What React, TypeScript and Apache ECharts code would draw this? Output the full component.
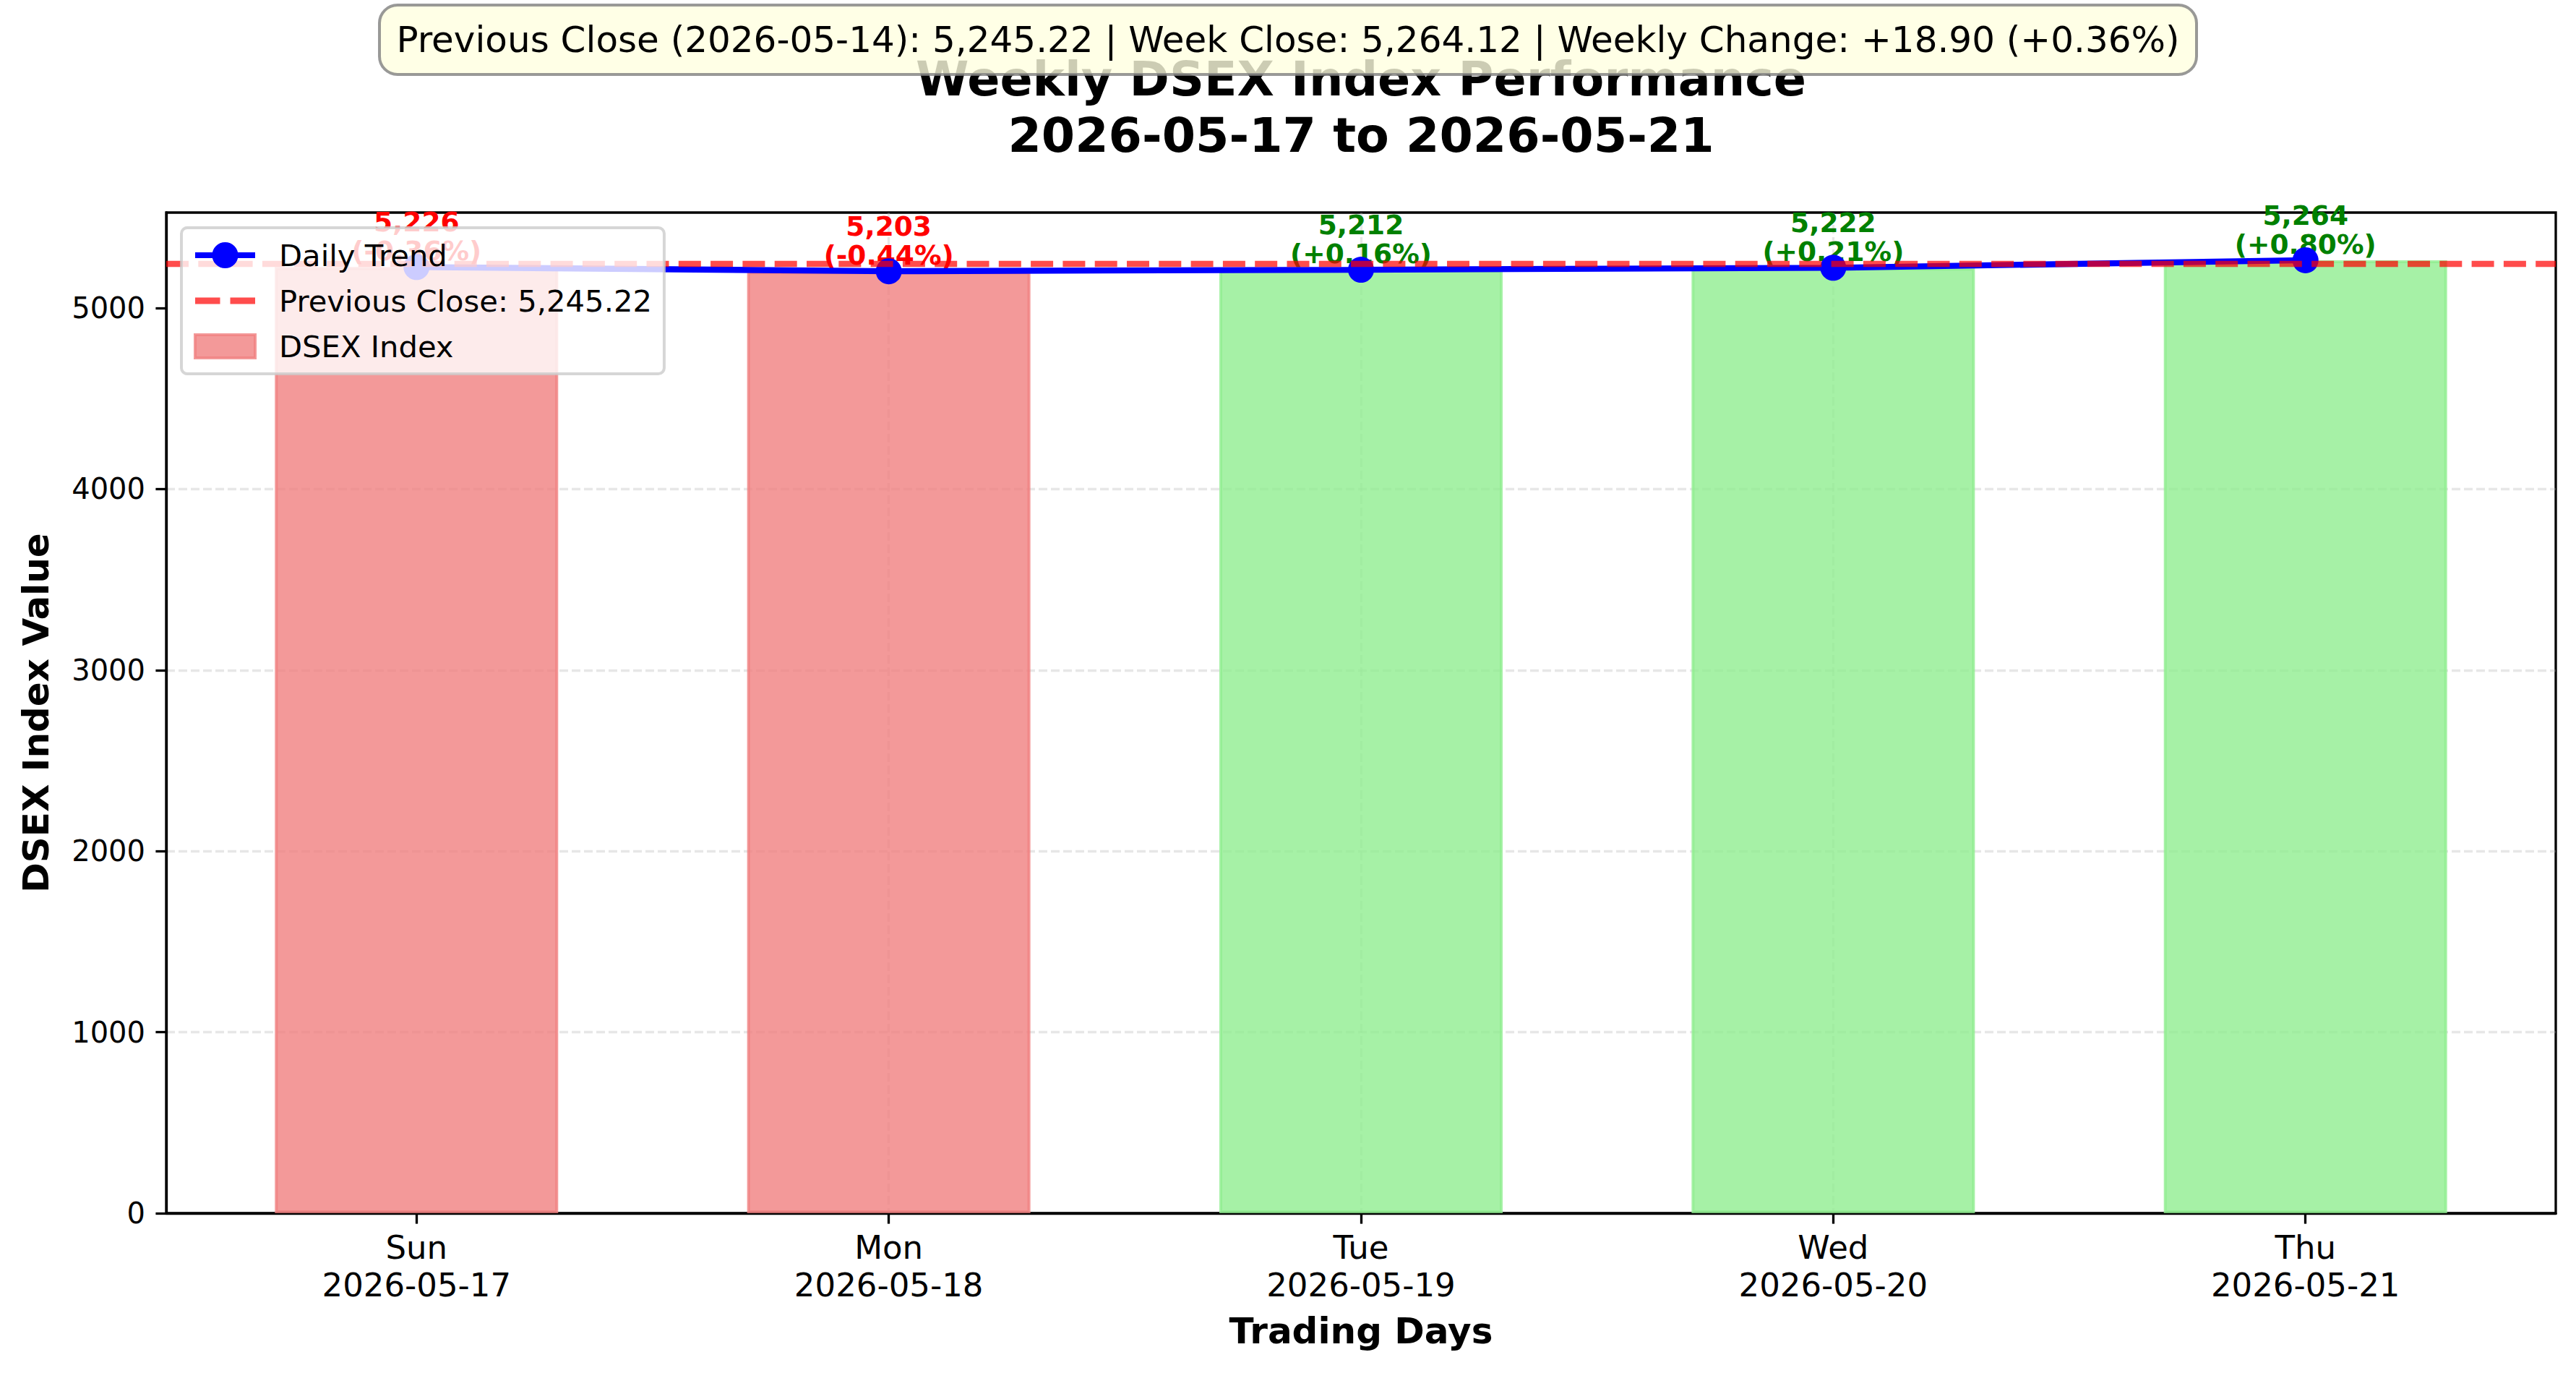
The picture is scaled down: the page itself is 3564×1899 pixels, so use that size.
import { useEffect, useRef } from "react";
import * as echarts from "echarts";

const DAYS = ["Sun", "Mon", "Tue", "Wed", "Thu"];
const DATES = ["2026-05-17", "2026-05-18", "2026-05-19", "2026-05-20", "2026-05-21"];
const CLOSES = [5226.34, 5203.3, 5211.6, 5222.4, 5264.12];
const CHANGE_PCT = [-0.36, -0.44, 0.16, 0.21, 0.8];
const PREV_CLOSE = 5245.22;
const PREV_CLOSE_DATE = "2026-05-14";
const Y_TICKS = [0, 1000, 2000, 3000, 4000, 5000];
const X_TICKS = [0, 1, 2, 3, 4];
const X_MIN = -0.53;
const X_MAX = 4.53;
const Y_MAX = 5527.3;

const FONT = "DejaVu Sans";

// legend handles drawn like matplotlib's: line with marker, two dashes, filled patch
const ICON_TREND =
  "path://M0,14H83V22H0Z M23.5,18 A18,18 0 1,1 59.5,18 A18,18 0 1,1 23.5,18 Z";
const ICON_DASH = "path://M0,0H32V8.3H0Z M45,0H77V8.3H45Z";
const ICON_PATCH = "path://M0,0H83V32H0Z";

const fmt0 = (v: number) => v.toLocaleString("en-US", { maximumFractionDigits: 0 });
const fmt2 = (v: number) =>
  v.toLocaleString("en-US", { minimumFractionDigits: 2, maximumFractionDigits: 2 });
const signed = (v: number) => (v >= 0 ? `+${v.toFixed(2)}` : v.toFixed(2));

export default function App() {
  const chartRef = useRef<HTMLDivElement | null>(null);

  useEffect(() => {
    if (!chartRef.current) {
      return;
    }
    const chart = echarts.init(chartRef.current, null, { renderer: "svg" });

    const weekClose = CLOSES[CLOSES.length - 1];
    const weekChange = weekClose - PREV_CLOSE;
    const weekPct = (weekChange / PREV_CLOSE) * 100;
    const summary =
      `Previous Close (${PREV_CLOSE_DATE}): ${fmt2(PREV_CLOSE)} | Week Close: ${fmt2(weekClose)}` +
      ` | Weekly Change: ${signed(weekChange)} (${signed(weekPct)}%)`;
    const prevName = `Previous Close: ${fmt2(PREV_CLOSE)}`;

    const barData = CLOSES.map((v, i) => {
      const up = CHANGE_PCT[i] >= 0;
      const fill = up ? "rgba(144,238,144,0.8)" : "rgba(240,128,128,0.8)";
      return {
        value: [i, v],
        itemStyle: { color: fill, borderColor: fill },
        label: { color: up ? "#008000" : "#ff0000" },
      };
    });

    chart.setOption({
      animation: false,
      textStyle: { fontFamily: FONT },
      title: [
        {
          text: `Weekly DSEX Index Performance\n${DATES[0]} to ${DATES[DATES.length - 1]}`,
          left: 1883,
          top: 70,
          textAlign: "center",
          padding: 0,
          textStyle: { fontFamily: FONT, fontSize: 66.7, fontWeight: "bold", lineHeight: 78, color: "#000" },
        },
        {
          text: summary,
          left: "center",
          top: 7,
          z: 8,
          padding: [19, 24],
          backgroundColor: "rgba(255,255,224,0.8)",
          borderColor: "rgba(128,128,128,0.8)",
          borderWidth: 4,
          borderRadius: 25,
          textStyle: { fontFamily: FONT, fontSize: 50, fontWeight: "normal", lineHeight: 58, color: "#000" },
        },
      ],
      legend: {
        orient: "vertical",
        left: 251,
        top: 315,
        z: 10,
        padding: 17,
        itemGap: 21,
        itemWidth: 83,
        itemHeight: 36,
        backgroundColor: "rgba(255,255,255,0.8)",
        borderColor: "rgba(204,204,204,0.8)",
        borderWidth: 4,
        borderRadius: 8,
        textStyle: { fontFamily: FONT, fontSize: 41.7, color: "#000", lineHeight: 42, padding: [0, 0, 0, 28] },
        data: [
          { name: "Daily Trend", icon: ICON_TREND, itemStyle: { color: "#0000ff", borderWidth: 0 } },
          { name: prevName, icon: ICON_DASH, itemStyle: { color: "rgba(255,0,0,0.7)", borderWidth: 0 } },
          {
            name: "DSEX Index",
            icon: ICON_PATCH,
            itemStyle: { color: "rgba(240,128,128,0.8)", borderColor: "rgba(240,128,128,0.8)", borderWidth: 4 },
          },
        ],
      },
      grid: {
        left: 230,
        top: 294,
        width: 3306,
        height: 1384,
        show: true,
        borderColor: "#000",
        borderWidth: 3.3,
        backgroundColor: "transparent",
      },
      xAxis: {
        type: "value",
        min: X_MIN,
        max: X_MAX,
        name: "Trading Days",
        nameLocation: "middle",
        nameGap: 138,
        nameTextStyle: { fontFamily: FONT, fontSize: 50, fontWeight: "bold", color: "#000" },
        axisLine: { show: true, onZero: false, lineStyle: { color: "#000", width: 3.3 } },
        axisTick: {
          show: true,
          customValues: X_TICKS,
          length: 14.6,
          lineStyle: { color: "#000", width: 3.3 },
        },
        axisLabel: {
          customValues: X_TICKS,
          margin: 21,
          fontFamily: FONT,
          fontSize: 45,
          lineHeight: 52,
          color: "#000",
          formatter: (v: number) => (Number.isInteger(v) && DAYS[v] ? `${DAYS[v]}\n${DATES[v]}` : ""),
        },
        splitLine: {
          show: true,
          showMinLine: false,
          showMaxLine: false,
          lineStyle: { color: "rgba(176,176,176,0.3)", width: 3.3, type: [12, 5] },
        },
      },
      yAxis: {
        type: "value",
        min: 0,
        max: Y_MAX,
        interval: 1000,
        name: "DSEX Index Value",
        nameLocation: "middle",
        nameGap: 155,
        nameRotate: 90,
        nameTextStyle: { fontFamily: FONT, fontSize: 50, fontWeight: "bold", color: "#000" },
        axisLine: { show: true, onZero: false, lineStyle: { color: "#000", width: 3.3 } },
        axisTick: {
          show: true,
          customValues: Y_TICKS,
          length: 14.6,
          lineStyle: { color: "#000", width: 3.3 },
        },
        axisLabel: {
          customValues: Y_TICKS,
          margin: 29,
          fontFamily: FONT,
          fontSize: 40,
          color: "#000",
          formatter: (v: number) => (v % 1000 === 0 ? String(v) : ""),
        },
        splitLine: {
          show: true,
          showMinLine: false,
          showMaxLine: false,
          lineStyle: { color: "rgba(176,176,176,0.3)", width: 3.3, type: [12, 5] },
        },
      },
      series: [
        {
          name: "DSEX Index",
          type: "bar",
          barWidth: 392,
          z: 2,
          itemStyle: {
            color: "rgba(240,128,128,0.8)",
            borderColor: "rgba(240,128,128,0.8)",
            borderWidth: 4,
          },
          label: {
            show: true,
            position: "top",
            distance: 2,
            fontFamily: FONT,
            fontSize: 37.5,
            fontWeight: "bold",
            lineHeight: 40,
            align: "center",
            formatter: (p: { dataIndex: number }) =>
              `${fmt0(CLOSES[p.dataIndex])}\n(${signed(CHANGE_PCT[p.dataIndex])}%)`,
          },
          data: barData,
        },
        {
          name: "Daily Trend",
          type: "line",
          z: 3,
          color: "#0000ff",
          symbol: "circle",
          symbolSize: 36,
          lineStyle: { color: "#0000ff", width: 8.3 },
          itemStyle: { color: "#0000ff" },
          data: CLOSES.map((v, i) => [i, v]),
        },
        {
          name: prevName,
          type: "line",
          z: 4,
          symbol: "none",
          color: "rgba(255,0,0,0.7)",
          lineStyle: { color: "rgba(255,0,0,0.7)", width: 8.3, type: [31, 13.3] },
          data: [],
          markLine: {
            silent: true,
            symbol: "none",
            label: { show: false },
            lineStyle: { color: "rgba(255,0,0,0.7)", width: 8.3, type: [31, 13.3] },
            data: [{ yAxis: PREV_CLOSE }],
          },
        },
      ],
    });

    const resize = () => chart.resize();
    window.addEventListener("resize", resize);
    return () => {
      window.removeEventListener("resize", resize);
      chart.dispose();
    };
  }, []);

  return (
    <div
      ref={chartRef}
      style={{ position: "fixed", left: 0, top: 0, width: 3564, height: 1899, background: "#fff" }}
      aria-label="Weekly DSEX index chart"
    />
  );
}
